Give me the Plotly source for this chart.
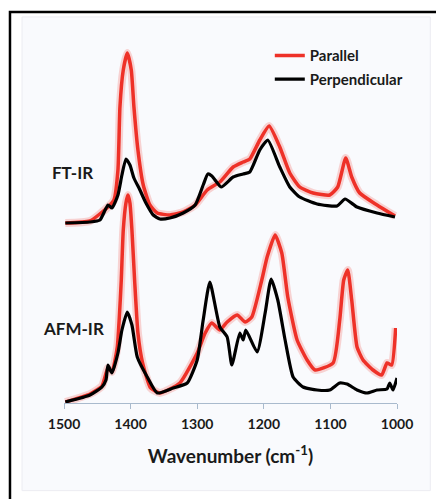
import plotly.graph_objects as go

# ---- data (wavenumber in cm^-1, intensity in arbitrary offset units) ----
ft_par_wn = [1498, 1461, 1434, 1425, 1419, 1416, 1411, 1405, 1399, 1395, 1389, 1381, 1371, 1360,
             1341, 1321, 1303, 1285, 1266, 1246, 1231, 1221, 1206, 1192, 1176, 1161, 1146, 1126,
             1101, 1089, 1077, 1068, 1056, 1030, 1003]
ft_par_val = [1.80, 1.82, 1.96, 2.03, 2.33, 2.96, 3.33, 3.50, 3.33, 2.96, 2.53, 2.18, 1.98, 1.90,
              1.88, 1.91, 1.98, 2.13, 2.21, 2.36, 2.41, 2.44, 2.63, 2.77, 2.56, 2.30, 2.16, 2.10,
              2.08, 2.16, 2.45, 2.26, 2.10, 1.98, 1.87]

ft_perp_wn = [1498, 1461, 1446, 1434, 1428, 1419, 1413, 1407, 1401, 1395, 1386, 1377, 1366, 1356,
              1341, 1321, 1303, 1291, 1284, 1278, 1264, 1246, 1231, 1221, 1206, 1194, 1176, 1161,
              1146, 1120, 1090, 1078, 1060, 1030, 1003]
ft_perp_val = [1.80, 1.81, 1.83, 1.98, 1.95, 2.08, 2.28, 2.44, 2.38, 2.25, 2.13, 2.00, 1.88, 1.84,
               1.85, 1.90, 1.98, 2.18, 2.29, 2.27, 2.16, 2.26, 2.29, 2.31, 2.53, 2.63, 2.36, 2.16,
               2.06, 1.99, 1.97, 2.04, 1.96, 1.90, 1.86]

afm_par_wn = [1498, 1461, 1443, 1434, 1428, 1420, 1417, 1414, 1411, 1407, 1404, 1401, 1398, 1394,
              1389, 1382, 1370, 1356, 1326, 1300, 1288, 1278, 1266, 1255, 1240, 1228, 1218, 1203,
              1195, 1183, 1173, 1164, 1150, 1135, 1123, 1096, 1086, 1080, 1074, 1068, 1060, 1051,
              1036, 1023, 1015, 1008, 1002]
afm_par_val = [0.01, 0.09, 0.17, 0.35, 0.31, 0.56, 0.85, 1.23, 1.73, 2.00, 2.08, 2.00, 1.73, 1.23,
               0.70, 0.40, 0.15, 0.10, 0.20, 0.50, 0.70, 0.80, 0.73, 0.81, 0.88, 0.81, 0.86, 1.23,
               1.46, 1.68, 1.50, 1.06, 0.63, 0.43, 0.33, 0.40, 0.83, 1.23, 1.33, 1.03, 0.56, 0.43,
               0.33, 0.28, 0.40, 0.38, 0.75]

afm_perp_wn = [1498, 1461, 1443, 1437, 1434, 1428, 1419, 1413, 1405, 1398, 1390, 1375, 1360, 1336,
               1315, 1300, 1291, 1281, 1266, 1255, 1248, 1236, 1231, 1227, 1210, 1198, 1189, 1179,
               1168, 1156, 1141, 1120, 1101, 1086, 1075, 1060, 1045, 1030, 1015, 1011, 1006, 1000]
afm_perp_val = [0.01, 0.08, 0.16, 0.23, 0.38, 0.30, 0.50, 0.73, 0.91, 0.78, 0.46, 0.26, 0.10, 0.15,
                0.20, 0.43, 0.83, 1.21, 0.76, 0.66, 0.38, 0.70, 0.63, 0.73, 0.51, 0.90, 1.24, 1.03,
                0.63, 0.26, 0.16, 0.13, 0.13, 0.20, 0.19, 0.13, 0.10, 0.13, 0.14, 0.20, 0.13, 0.25]

x_ticks = [1500, 1400, 1300, 1200, 1100, 1000]
series_names = ["Parallel", "Perpendicular"]
panel_labels = ["FT-IR", "AFM-IR"]

RED = "#ee3128"
BLACK = "#000000"
FONT = "Lato"
SMOOTH = 0.5

fig = go.Figure()

# soft red halo beneath the red curves
for wn, val in [(ft_par_wn, ft_par_val), (afm_par_wn, afm_par_val)]:
    fig.add_trace(go.Scatter(x=wn, y=val, mode="lines", showlegend=False, hoverinfo="skip",
                             line=dict(color="rgba(240,70,60,0.22)", width=8,
                                       shape="spline", smoothing=SMOOTH)))

fig.add_trace(go.Scatter(x=ft_par_wn, y=ft_par_val, mode="lines", name=series_names[0],
                         legendgroup="a",
                         line=dict(color=RED, width=3.5, shape="spline", smoothing=SMOOTH)))
fig.add_trace(go.Scatter(x=afm_par_wn, y=afm_par_val, mode="lines", name=series_names[0],
                         legendgroup="a", showlegend=False,
                         line=dict(color=RED, width=3.5, shape="spline", smoothing=SMOOTH)))
fig.add_trace(go.Scatter(x=ft_perp_wn, y=ft_perp_val, mode="lines", name=series_names[1],
                         legendgroup="b",
                         line=dict(color=BLACK, width=3.2, shape="spline", smoothing=SMOOTH)))
fig.add_trace(go.Scatter(x=afm_perp_wn, y=afm_perp_val, mode="lines", name=series_names[1],
                         legendgroup="b", showlegend=False,
                         line=dict(color=BLACK, width=3.2, shape="spline", smoothing=SMOOTH)))

fig.update_layout(
    width=436, height=499,
    margin=dict(l=64, r=39, t=30, b=96),
    paper_bgcolor="white", plot_bgcolor="rgba(0,0,0,0)",
    font=dict(family=FONT, color="#1a1a1a"),
    legend=dict(x=0.618, y=0.975, xanchor="left", yanchor="top",
                bgcolor="rgba(0,0,0,0)", tracegroupgap=1,
                font=dict(family=FONT, size=15, color="#1a1a1a", weight="bold")),
    xaxis=dict(range=[1500, 1000], tickvals=x_ticks, ticktext=[str(t) for t in x_ticks],
               showgrid=False, zeroline=False, showline=True, linecolor="#a9bacd", linewidth=1,
               ticks="outside", ticklen=5, tickcolor="#a9bacd", ticklabelstandoff=3,
               tickfont=dict(family=FONT, size=14, color="#1a1a1a", weight="bold"),
               title=dict(text="Wavenumber (cm<sup>-1</sup>)", standoff=18,
                          font=dict(family=FONT, size=19, color="#1a1a1a", weight="bold"))),
    yaxis=dict(range=[0, 3.73], visible=False),
    shapes=[
        dict(type="rect", xref="paper", yref="paper", x0=-0.126, x1=1.1, y0=-0.235, y1=1.035,
             line=dict(color="#ececf2", width=1), fillcolor="#f9fafd", layer="below"),
        dict(type="rect", xref="paper", yref="paper", x0=-0.1622, x1=1.25, y0=-0.4, y1=1.0483,
             line=dict(color="#000000", width=2.5), fillcolor="rgba(0,0,0,0)", layer="below"),
    ],
    annotations=[
        dict(text=panel_labels[0], xref="paper", yref="paper", x=0.0255, y=0.619,
             showarrow=False, xanchor="center", yanchor="middle",
             font=dict(family=FONT, size=17, color="#1a1a1a", weight="bold")),
        dict(text=panel_labels[1], xref="paper", yref="paper", x=0.0285, y=0.201,
             showarrow=False, xanchor="center", yanchor="middle",
             font=dict(family=FONT, size=17, color="#1a1a1a", weight="bold")),
    ],
)

fig.write_html("out.html")
